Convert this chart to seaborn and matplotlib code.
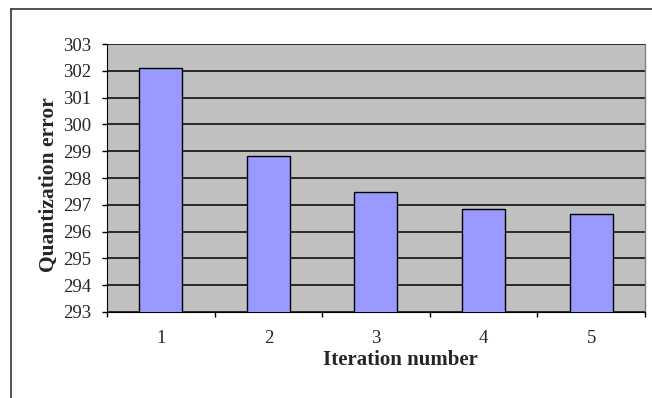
import matplotlib
matplotlib.use("Agg")
import matplotlib.pyplot as plt
import seaborn as sns
import pandas as pd
from matplotlib.lines import Line2D

# data
iterations = ["1", "2", "3", "4", "5"]
errors = [302.12, 298.83, 297.49, 296.85, 296.66]

df = pd.DataFrame({"Iteration": iterations, "Error": errors})

sns.set_style("white")
plt.rcParams["font.family"] = ["Liberation Serif", "DejaVu Serif"]

fig = plt.figure(figsize=(6.52, 3.98), dpi=100)
ax = fig.add_axes([0.1641, 0.2161, 0.8250, 0.6733])
ax.set_facecolor("#c0c0c0")

sns.barplot(data=df, x="Iteration", y="Error", color="#9999ff", saturation=1,
            width=0.4, edgecolor="black", linewidth=1, ax=ax, zorder=3)

ax.set_ylim(293, 303)
ax.set_yticks(range(293, 304))
ax.set_xlim(-0.5, 4.5)
ax.yaxis.grid(True, color="black", linewidth=1.1, zorder=1)
ax.set_axisbelow(True)

# Excel style ticks between categories
ax.set_xticks([i - 0.5 for i in range(6)], minor=False)
ax.set_xticklabels([])
ax.set_xticks(range(5), minor=True)
ax.set_xticklabels(iterations, minor=True)
ax.tick_params(axis="x", which="major", direction="out", length=3.6, width=1, color="black", bottom=True)
ax.tick_params(axis="x", which="minor", length=0, pad=13, labelsize=13.5)
ax.tick_params(axis="y", direction="out", length=3.6, width=1, color="black", left=True, labelsize=13.5, pad=8)

ax.spines["top"].set_visible(False)
ax.spines["right"].set_color("#808080")
ax.spines["right"].set_linewidth(1)
ax.spines["left"].set_color("black")
ax.spines["bottom"].set_color("black")

ax.set_xlabel("Iteration number", fontsize=15, fontweight="bold", labelpad=2)
ax.set_ylabel("Quantization error", fontsize=15.5, fontweight="bold", labelpad=3)
ax.xaxis.label.set_x(0.545)
ax.yaxis.label.set_y(0.474)

# outer chart frame (left and top edges visible)
fig.add_artist(Line2D([11 / 652, 11 / 652], [0, 1 - 9 / 398], color="#333333", linewidth=1.2))
fig.add_artist(Line2D([11 / 652, 1], [1 - 9 / 398, 1 - 9 / 398], color="#333333", linewidth=1.2))

fig.savefig("out.png", dpi=100)
